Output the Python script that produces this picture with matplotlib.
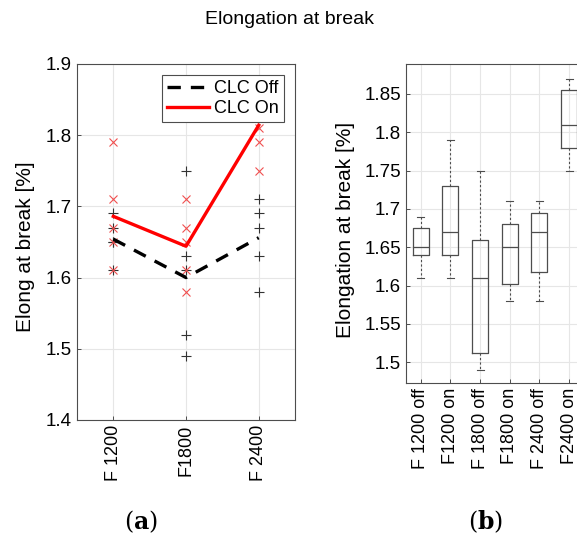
import matplotlib
matplotlib.use("Agg")
import matplotlib.pyplot as plt
import numpy as np

plt.rcParams['font.family'] = ['Liberation Sans', 'DejaVu Sans']

# elongation at break [%], five specimens per feed rate
feeds = ["F 1200", "F1800", "F 2400"]
clc_off = [
    [1.61, 1.65, 1.65, 1.67, 1.69],
    [1.49, 1.52, 1.61, 1.63, 1.75],
    [1.58, 1.63, 1.67, 1.69, 1.71],
]
clc_on = [
    [1.61, 1.65, 1.67, 1.71, 1.79],
    [1.58, 1.61, 1.65, 1.67, 1.71],
    [1.75, 1.79, 1.81, 1.85, 1.87],
]
box_labels = ["F 1200 off", "F1200 on", "F 1800 off", "F1800 on",
              "F 2400 off", "F2400 on"]


def prctile(vals, p):
    # percentile the way MATLAB's prctile does it
    x = np.sort(vals)
    n = len(x)
    pos = np.clip(p / 100.0 * n - 0.5, 0, n - 1)
    lo = int(np.floor(pos))
    hi = min(lo + 1, n - 1)
    return x[lo] + (pos - lo) * (x[hi] - x[lo])


def box_stats(vals):
    return dict(med=prctile(vals, 50), q1=prctile(vals, 25), q3=prctile(vals, 75),
                whislo=min(vals), whishi=max(vals), fliers=[])


def tick_fmt(t):
    s = f"{t:.2f}"
    return s.rstrip('0').rstrip('.') if s.endswith('0') else s


fig = plt.figure(figsize=(5.77, 5.37), dpi=100)
edge = '#4d4d4d'
gridc = '#e6e6e6'

# (a) individual results with mean lines
ax1 = fig.add_axes([0.1334, 0.2179, 0.378, 0.663])
pos = np.arange(1, len(feeds) + 1)
for i in range(len(feeds)):
    ax1.plot([pos[i]] * len(clc_off[i]), clc_off[i], '+', color='#333333',
             ms=7, mew=0.8, zorder=3)
    ax1.plot([pos[i]] * len(clc_on[i]), clc_on[i], 'x', color='#f05050',
             ms=5.5, mew=0.8, zorder=3)
ax1.plot(pos, [np.mean(v) for v in clc_off], '--', color='black', lw=2.4,
         dashes=(4, 3), label='CLC Off', zorder=4)
ax1.plot(pos, [np.mean(v) for v in clc_on], '-', color='#ff0000', lw=2.4,
         label='CLC On', zorder=4)
ax1.set_xlim(0.5, 3.5)
ax1.set_ylim(1.4, 1.9)
ax1.set_xticks(pos)
ax1.set_xticklabels(feeds, rotation=90, fontsize=13)
ax1.set_yticks(np.arange(1.4, 1.91, 0.1))
ax1.set_yticklabels([f"{t:.1f}" for t in np.arange(1.4, 1.91, 0.1)], fontsize=13.5)
ax1.set_ylabel("Elong at break [%]", fontsize=15)
ax1.yaxis.set_label_coords(-0.193, 0.487)
leg = ax1.legend(loc='upper right', fontsize=13, frameon=True, fancybox=False,
                 framealpha=1, handlelength=2.3, borderaxespad=0.6, borderpad=0.3,
                 labelspacing=0.15, handletextpad=0.3)
leg.get_frame().set_edgecolor(edge)
leg.get_frame().set_linewidth(0.8)
leg.set_zorder(5)

# (b) box plots per configuration
ax2 = fig.add_axes([0.7036, 0.2868, 0.3085, 0.594])
groups = []
for off, on in zip(clc_off, clc_on):
    groups += [off, on]
stats = [box_stats(g) for g in groups]
ax2.bxp(stats, positions=np.arange(1, len(groups) + 1), widths=0.54,
        showfliers=False, capwidths=0.24,
        boxprops=dict(color=edge, lw=0.9),
        medianprops=dict(color=edge, lw=0.9),
        whiskerprops=dict(color=edge, lw=0.8, linestyle=(0, (2, 2))),
        capprops=dict(color=edge, lw=0.8))
ax2.set_xlim(0.5, 6.5)
ax2.set_ylim(1.473, 1.889)
ax2.set_xticks(np.arange(1, len(groups) + 1))
ax2.set_xticklabels(box_labels, rotation=90, fontsize=13)
yt = np.arange(1.5, 1.851, 0.05)
ax2.set_yticks(yt)
ax2.set_yticklabels([tick_fmt(t) for t in yt], fontsize=13.5)
ax2.set_ylabel("Elongation at break [%]", fontsize=15)
ax2.yaxis.set_label_coords(-0.287, 0.48)

for ax in (ax1, ax2):
    ax.grid(True, color=gridc, lw=0.8)
    ax.set_axisbelow(True)
    ax.tick_params(direction='in', length=3, color=edge, width=0.7)
    for s in ax.spines.values():
        s.set_color(edge)
        s.set_linewidth(0.8)

fig.text(0.502, 0.963, "Elongation at break", ha='center', va='center', fontsize=14)
fig.text(0.244, 0.028, r"$(\mathbf{a})$", ha='center', va='center', fontsize=17,
         math_fontfamily='dejavuserif')
fig.text(0.842, 0.028, r"$(\mathbf{b})$", ha='center', va='center', fontsize=17,
         math_fontfamily='dejavuserif')

fig.savefig("out.png", dpi=100)
